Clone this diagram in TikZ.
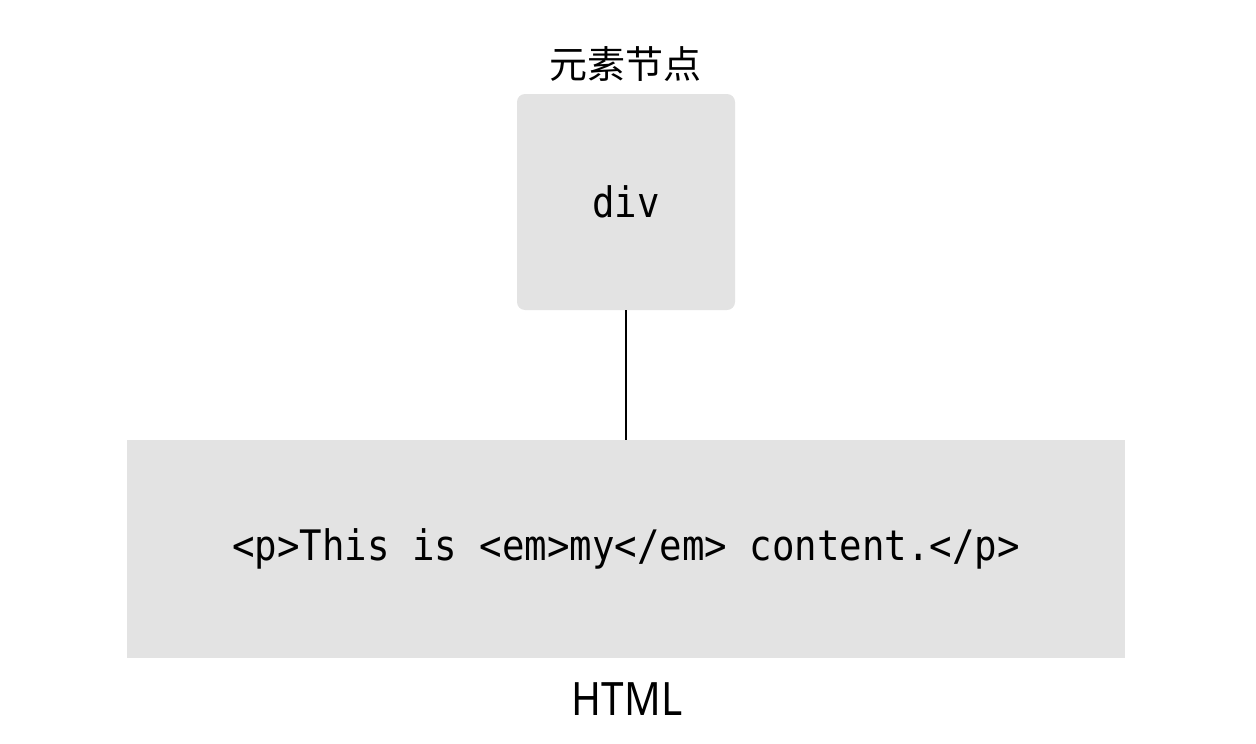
\documentclass[tikz,border=0pt]{standalone}
\usepackage{fontspec}
\usepackage{tikz}
\usetikzlibrary{positioning}
\newfontfamily\codefont[FakeStretch=0.89]{DejaVu Sans Mono}
\newfontfamily\labelfont[FakeStretch=0.88]{Noto Sans}
\newfontfamily\cjk{Noto Sans CJK SC}
\definecolor{boxgray}{RGB}{227,227,227}

\begin{document}
\begin{tikzpicture}[x=1pt,y=-1pt,
  elem/.style={fill=boxgray,rounded corners=8pt,minimum width=218pt,minimum height=216pt,inner sep=0pt,font=\codefont\fontsize{42}{48}\selectfont},
  html/.style={fill=boxgray,minimum width=998pt,minimum height=218pt,inner sep=0pt,font=\codefont\fontsize{42}{48}\selectfont}]
\useasboundingbox (0,0) rectangle (1256,744);

% Boxes
\node[elem] (div) at (626,202) {div};
\node[html] (para) at (626,549) {<p>This is <em>my</em> content.</p>};

% Connection
\draw[line width=1.6pt] (div) -- (para);

% Labels
\node[font=\cjk\fontsize{38}{44}\selectfont] (elemlabel) at (625,64.5) {元素节点};
\node[font=\labelfont\fontsize{46}{52}\selectfont,anchor=base] (htmllabel) at (627,715) {HTML};
\end{tikzpicture}
\end{document}
